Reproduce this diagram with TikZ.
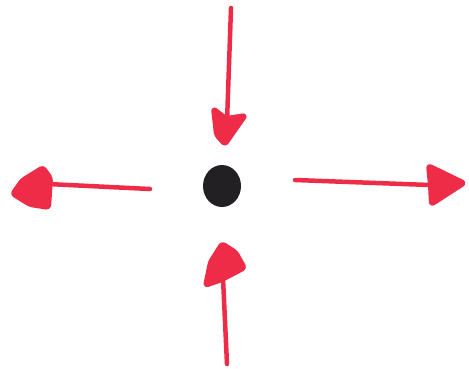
\documentclass[tikz,border=0pt]{standalone}
\usetikzlibrary{shapes.geometric}
\definecolor{marker}{RGB}{238,44,72}
\definecolor{ink}{RGB}{35,32,36}
\tikzset{
  shaft/.style={draw=marker, line width=4.5pt, line cap=round},
  headtri/.style={fill=marker, draw=marker, line width=4pt, rounded corners=3pt, line join=round},
  dotnode/.style={ellipse, fill=ink, minimum width=38pt, minimum height=42pt, inner sep=0pt}
}
\begin{document}
\begin{tikzpicture}[x=1pt,y=-1pt]
\useasboundingbox (0,0) rectangle (469,368);
\node[dotnode] (dot) at (222,186) {};
% top arrow (points down)
\coordinate (t0) at (231,8);
\coordinate (t1) at (227,122);
\draw[shaft] (t0) -- (t1);
\fill[headtri] (213,108) -- (226,118) -- (246,115) -- (225,145) -- (216,135) -- cycle;
% bottom arrow (points up)
\coordinate (b0) at (227,364);
\coordinate (b1) at (223,278);
\draw[shaft] (b0) -- (b1);
\fill[headtri] (222,243) -- (236,252) -- (245,268) -- (222,280) -- (205,286) -- (210,262) -- cycle;
% left arrow (points left)
\coordinate (l0) at (150,189);
\coordinate (l1) at (48,184);
\draw[shaft] (l0) -- (l1);
\fill[headtri] (43,167) -- (51,178) -- (49,208) -- (30,205) -- (12,194) -- (22,180) -- cycle;
% right arrow (points right)
\coordinate (r0) at (295,180);
\coordinate (r1) at (430,185);
\draw[shaft] (r0) -- (r1);
\fill[headtri] (428,165) -- (465,183) -- (431,205) -- (430,185) -- cycle;
\end{tikzpicture}
\end{document}
